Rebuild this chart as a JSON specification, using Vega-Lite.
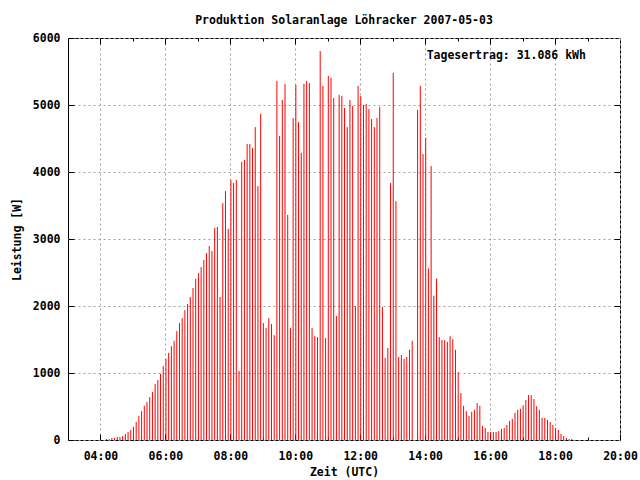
{
  "$schema": "https://vega.github.io/schema/vega-lite/v6.json",
  "width": 552,
  "height": 402,
  "autosize": {"type": "none"},
  "padding": {"left": 68, "top": 38, "right": 20, "bottom": 40},
  "background": "white",
  "title": {"text": "Produktion Solaranlage Löhracker 2007-05-03", "font": "DejaVu Sans Mono", "fontSize": 11.5, "fontWeight": "bold", "color": "black", "anchor": "middle", "baseline": "alphabetic", "offset": 16, "dy": 19},
  "config": {
    "view": {"stroke": "black", "strokeWidth": 1},
    "axis": {"labelFont": "DejaVu Sans Mono", "labelFontSize": 11.5, "labelFontWeight": "bold", "labelColor": "black", "titleFont": "DejaVu Sans Mono", "titleFontSize": 11.5, "titleFontWeight": "bold", "titleColor": "black", "domain": false, "tickColor": "black", "gridColor": "#a0a0a0", "gridDash": [2, 3], "gridWidth": 1}
  },
  "data": {"values": [
    {"t":"2007-05-03T04:11","w":15},{"t":"2007-05-03T04:16","w":15},{"t":"2007-05-03T04:21","w":30},{"t":"2007-05-03T04:26","w":30},{"t":"2007-05-03T04:31","w":45},{"t":"2007-05-03T04:36","w":45},{"t":"2007-05-03T04:41","w":60},{"t":"2007-05-03T04:46","w":90},{"t":"2007-05-03T04:51","w":120},{"t":"2007-05-03T04:56","w":150},
    {"t":"2007-05-03T05:01","w":195},{"t":"2007-05-03T05:06","w":270},{"t":"2007-05-03T05:11","w":360},{"t":"2007-05-03T05:16","w":430},{"t":"2007-05-03T05:21","w":510},{"t":"2007-05-03T05:26","w":570},{"t":"2007-05-03T05:31","w":640},{"t":"2007-05-03T05:36","w":715},{"t":"2007-05-03T05:41","w":835},{"t":"2007-05-03T05:46","w":895},{"t":"2007-05-03T05:51","w":985},{"t":"2007-05-03T05:56","w":1105},
    {"t":"2007-05-03T06:01","w":1210},{"t":"2007-05-03T06:06","w":1300},{"t":"2007-05-03T06:11","w":1400},{"t":"2007-05-03T06:16","w":1480},{"t":"2007-05-03T06:21","w":1625},{"t":"2007-05-03T06:26","w":1745},{"t":"2007-05-03T06:31","w":1820},{"t":"2007-05-03T06:36","w":1940},{"t":"2007-05-03T06:41","w":2030},{"t":"2007-05-03T06:46","w":2135},{"t":"2007-05-03T06:51","w":2270},{"t":"2007-05-03T06:56","w":2405},
    {"t":"2007-05-03T07:01","w":2490},{"t":"2007-05-03T07:06","w":2580},{"t":"2007-05-03T07:11","w":2685},{"t":"2007-05-03T07:16","w":2790},{"t":"2007-05-03T07:21","w":2895},{"t":"2007-05-03T07:26","w":2820},{"t":"2007-05-03T07:31","w":3165},{"t":"2007-05-03T07:36","w":3180},{"t":"2007-05-03T07:41","w":2135},{"t":"2007-05-03T07:46","w":3535},{"t":"2007-05-03T07:51","w":3715},{"t":"2007-05-03T07:56","w":3150},
    {"t":"2007-05-03T08:01","w":3880},{"t":"2007-05-03T08:06","w":3835},{"t":"2007-05-03T08:11","w":3880},{"t":"2007-05-03T08:16","w":1030},{"t":"2007-05-03T08:21","w":4150},{"t":"2007-05-03T08:26","w":4180},{"t":"2007-05-03T08:31","w":4420},{"t":"2007-05-03T08:36","w":4420},{"t":"2007-05-03T08:41","w":4360},{"t":"2007-05-03T08:46","w":4670},{"t":"2007-05-03T08:51","w":3790},{"t":"2007-05-03T08:56","w":4865},
    {"t":"2007-05-03T09:01","w":1745},{"t":"2007-05-03T09:06","w":1670},{"t":"2007-05-03T09:11","w":1820},{"t":"2007-05-03T09:16","w":1730},{"t":"2007-05-03T09:21","w":1565},{"t":"2007-05-03T09:26","w":5360},{"t":"2007-05-03T09:31","w":4540},{"t":"2007-05-03T09:36","w":5075},{"t":"2007-05-03T09:41","w":5315},{"t":"2007-05-03T09:46","w":3360},{"t":"2007-05-03T09:51","w":1670},{"t":"2007-05-03T09:56","w":4805},
    {"t":"2007-05-03T10:01","w":5300},{"t":"2007-05-03T10:06","w":4745},{"t":"2007-05-03T10:11","w":4285},{"t":"2007-05-03T10:16","w":5315},{"t":"2007-05-03T10:21","w":5360},{"t":"2007-05-03T10:26","w":5330},{"t":"2007-05-03T10:31","w":1670},{"t":"2007-05-03T10:36","w":1550},{"t":"2007-05-03T10:41","w":1535},{"t":"2007-05-03T10:46","w":5805},{"t":"2007-05-03T10:51","w":5285},{"t":"2007-05-03T10:56","w":1520},
    {"t":"2007-05-03T11:01","w":5435},{"t":"2007-05-03T11:06","w":5405},{"t":"2007-05-03T11:11","w":5105},{"t":"2007-05-03T11:16","w":1850},{"t":"2007-05-03T11:21","w":5150},{"t":"2007-05-03T11:26","w":5135},{"t":"2007-05-03T11:31","w":4955},{"t":"2007-05-03T11:36","w":4670},{"t":"2007-05-03T11:41","w":5075},{"t":"2007-05-03T11:46","w":4985},{"t":"2007-05-03T11:51","w":2000},{"t":"2007-05-03T11:56","w":5285},
    {"t":"2007-05-03T12:01","w":5135},{"t":"2007-05-03T12:06","w":5000},{"t":"2007-05-03T12:11","w":5015},{"t":"2007-05-03T12:16","w":4940},{"t":"2007-05-03T12:21","w":4790},{"t":"2007-05-03T12:26","w":4670},{"t":"2007-05-03T12:31","w":4805},{"t":"2007-05-03T12:36","w":4970},{"t":"2007-05-03T12:41","w":1985},{"t":"2007-05-03T12:46","w":1225},{"t":"2007-05-03T12:51","w":1375},{"t":"2007-05-03T12:56","w":3835},
    {"t":"2007-05-03T13:01","w":5480},{"t":"2007-05-03T13:06","w":3565},{"t":"2007-05-03T13:11","w":1240},{"t":"2007-05-03T13:16","w":1270},{"t":"2007-05-03T13:21","w":1210},{"t":"2007-05-03T13:26","w":1240},{"t":"2007-05-03T13:31","w":1345},{"t":"2007-05-03T13:36","w":1480},{"t":"2007-05-03T13:46","w":4925},{"t":"2007-05-03T13:51","w":5285},{"t":"2007-05-03T13:56","w":4270},
    {"t":"2007-05-03T14:01","w":4510},{"t":"2007-05-03T14:06","w":2560},{"t":"2007-05-03T14:11","w":4090},{"t":"2007-05-03T14:16","w":2155},{"t":"2007-05-03T14:21","w":2410},{"t":"2007-05-03T14:26","w":1535},{"t":"2007-05-03T14:31","w":1490},{"t":"2007-05-03T14:36","w":1490},{"t":"2007-05-03T14:41","w":1465},{"t":"2007-05-03T14:46","w":1550},{"t":"2007-05-03T14:51","w":1505},{"t":"2007-05-03T14:56","w":1345},
    {"t":"2007-05-03T15:01","w":1015},{"t":"2007-05-03T15:06","w":700},{"t":"2007-05-03T15:11","w":510},{"t":"2007-05-03T15:16","w":430},{"t":"2007-05-03T15:21","w":360},{"t":"2007-05-03T15:26","w":420},{"t":"2007-05-03T15:31","w":450},{"t":"2007-05-03T15:36","w":550},{"t":"2007-05-03T15:41","w":510},{"t":"2007-05-03T15:46","w":210},{"t":"2007-05-03T15:51","w":180},{"t":"2007-05-03T15:56","w":120},
    {"t":"2007-05-03T16:01","w":120},{"t":"2007-05-03T16:06","w":120},{"t":"2007-05-03T16:11","w":120},{"t":"2007-05-03T16:16","w":135},{"t":"2007-05-03T16:21","w":165},{"t":"2007-05-03T16:26","w":180},{"t":"2007-05-03T16:31","w":225},{"t":"2007-05-03T16:36","w":285},{"t":"2007-05-03T16:41","w":315},{"t":"2007-05-03T16:46","w":405},{"t":"2007-05-03T16:51","w":450},{"t":"2007-05-03T16:56","w":465},
    {"t":"2007-05-03T17:01","w":520},{"t":"2007-05-03T17:06","w":595},{"t":"2007-05-03T17:11","w":670},{"t":"2007-05-03T17:16","w":670},{"t":"2007-05-03T17:21","w":610},{"t":"2007-05-03T17:26","w":505},{"t":"2007-05-03T17:31","w":450},{"t":"2007-05-03T17:36","w":330},{"t":"2007-05-03T17:41","w":330},{"t":"2007-05-03T17:46","w":300},{"t":"2007-05-03T17:51","w":270},{"t":"2007-05-03T17:56","w":225},
    {"t":"2007-05-03T18:01","w":180},{"t":"2007-05-03T18:06","w":150},{"t":"2007-05-03T18:11","w":90},{"t":"2007-05-03T18:16","w":60},{"t":"2007-05-03T18:21","w":30},{"t":"2007-05-03T18:26","w":15},{"t":"2007-05-03T18:31","w":15}
  ]},
  "layer": [
    {
      "mark": {"type": "rule", "color": "#ff0000", "strokeWidth": 1},
      "encoding": {
        "x": {"field": "t", "type": "temporal",
          "scale": {"domain": [{"year": 2007, "month": 5, "date": 3, "hours": 3}, {"year": 2007, "month": 5, "date": 3, "hours": 20}]},
          "axis": {"orient": "bottom", "title": "Zeit (UTC)", "titlePadding": 2,
            "values": [
              {"year": 2007, "month": 5, "date": 3, "hours": 4}, {"year": 2007, "month": 5, "date": 3, "hours": 5}, {"year": 2007, "month": 5, "date": 3, "hours": 6}, {"year": 2007, "month": 5, "date": 3, "hours": 7}, {"year": 2007, "month": 5, "date": 3, "hours": 8}, {"year": 2007, "month": 5, "date": 3, "hours": 9}, {"year": 2007, "month": 5, "date": 3, "hours": 10}, {"year": 2007, "month": 5, "date": 3, "hours": 11}, {"year": 2007, "month": 5, "date": 3, "hours": 12}, {"year": 2007, "month": 5, "date": 3, "hours": 13}, {"year": 2007, "month": 5, "date": 3, "hours": 14}, {"year": 2007, "month": 5, "date": 3, "hours": 15}, {"year": 2007, "month": 5, "date": 3, "hours": 16}, {"year": 2007, "month": 5, "date": 3, "hours": 17}, {"year": 2007, "month": 5, "date": 3, "hours": 18}, {"year": 2007, "month": 5, "date": 3, "hours": 19}, {"year": 2007, "month": 5, "date": 3, "hours": 20}],
            "labelExpr": "hours(datum.value) % 2 == 0 ? timeFormat(datum.value, '%H:%M') : ''",
            "grid": true,
            "gridOpacity": {"condition": {"test": "hours(datum.value) % 2 == 0", "value": 1}, "value": 0},
            "tickSize": {"condition": {"test": "hours(datum.value) % 2 == 0", "value": -6}, "value": -3},
            "labelPadding": 16, "labelFlush": false, "labelOverlap": false}},
        "y": {"field": "w", "type": "quantitative", "scale": {"domain": [0, 6000], "nice": false},
          "axis": {"orient": "left", "title": "Leistung [W]", "values": [0, 1000, 2000, 3000, 4000, 5000, 6000], "format": "d", "grid": true, "tickSize": -6, "labelPadding": 14, "titlePadding": 10, "labelFlush": false}},
        "y2": {"datum": 0}
      }
    },
    {
      "data": {"values": [{"label": "Tagesertrag: 31.086 kWh"}]},
      "mark": {"type": "text", "align": "right", "baseline": "middle", "font": "DejaVu Sans Mono", "fontSize": 11.5, "fontWeight": "bold", "color": "black"},
      "encoding": {
        "x": {"datum": {"year": 2007, "month": 5, "date": 3, "hours": 18, "minutes": 57}, "type": "temporal",
          "axis": {"orient": "top", "title": null, "labels": false, "grid": false,
            "values": [
              {"year": 2007, "month": 5, "date": 3, "hours": 4}, {"year": 2007, "month": 5, "date": 3, "hours": 5}, {"year": 2007, "month": 5, "date": 3, "hours": 6}, {"year": 2007, "month": 5, "date": 3, "hours": 7}, {"year": 2007, "month": 5, "date": 3, "hours": 8}, {"year": 2007, "month": 5, "date": 3, "hours": 9}, {"year": 2007, "month": 5, "date": 3, "hours": 10}, {"year": 2007, "month": 5, "date": 3, "hours": 11}, {"year": 2007, "month": 5, "date": 3, "hours": 12}, {"year": 2007, "month": 5, "date": 3, "hours": 13}, {"year": 2007, "month": 5, "date": 3, "hours": 14}, {"year": 2007, "month": 5, "date": 3, "hours": 15}, {"year": 2007, "month": 5, "date": 3, "hours": 16}, {"year": 2007, "month": 5, "date": 3, "hours": 17}, {"year": 2007, "month": 5, "date": 3, "hours": 18}, {"year": 2007, "month": 5, "date": 3, "hours": 19}],
            "tickSize": {"condition": {"test": "hours(datum.value) % 2 == 0", "value": -6}, "value": -3}}},
        "y": {"datum": 5730, "type": "quantitative",
          "axis": {"orient": "right", "title": null, "labels": false, "grid": false, "values": [1000, 2000, 3000, 4000, 5000], "tickSize": -6}},
        "text": {"field": "label"}
      }
    }
  ],
  "resolve": {"axis": {"x": "independent", "y": "independent"}}
}
